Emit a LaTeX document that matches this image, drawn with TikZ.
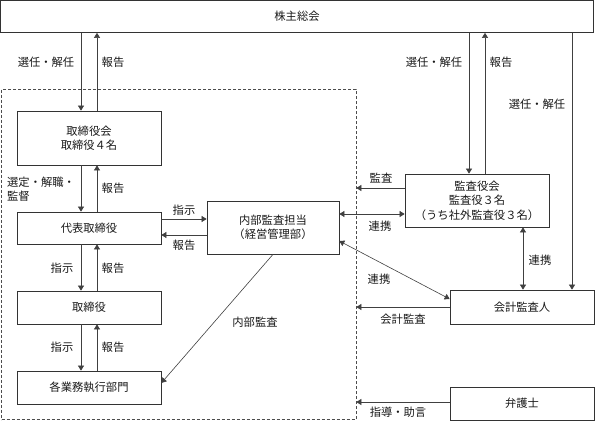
\documentclass[tikz,border=0pt]{standalone}
\usepackage{fontspec}
\setmainfont{Noto Sans CJK JP}
\usetikzlibrary{arrows.meta,calc}
\begin{document}
\begin{tikzpicture}[x=1pt,y=-1pt,
  box/.style={draw=black!80, line width=0.7pt, rectangle, inner sep=0pt, align=center,
    font=\fontsize{11.3}{14.5}\selectfont, text=black!90},
  tip/.tip={Triangle[length=5pt,width=6pt]},
  arr/.style={draw=black!75, line width=0.6pt, -tip},
  arrb/.style={draw=black!75, line width=0.6pt, tip-tip},
  lab/.style={font=\fontsize{11.3}{14}\selectfont, text=black!90, inner sep=0pt}]
\useasboundingbox (0,0) rectangle (595,421);

% frame
\node[draw=black!70, line width=0.6pt, dash pattern=on 3pt off 2pt, minimum width=354.5pt,
  minimum height=330.5pt, inner sep=0pt] (frame) at (178.75,254.25) {};

% boxes
\node[box, minimum width=593pt, minimum height=32pt] (gm) at (297,16.5) {株主総会};
\node[box, minimum width=144pt, minimum height=54pt] (bod) at (89,138) {取締役会\\取締役４名};
\node[box, minimum width=144pt, minimum height=32pt] (ceo) at (89,228) {代表取締役};
\node[box, minimum width=144pt, minimum height=33pt] (dir) at (89,307.5) {取締役};
\node[box, minimum width=144pt, minimum height=33pt] (div) at (89,387.5) {各業務執行部門};
\node[box, minimum width=132pt, minimum height=53pt] (ia) at (273,227.5) {内部監査担当\\（経営管理部）};
\node[box, minimum width=144pt, minimum height=53pt] (kansa) at (477,200.5) {監査役会\\監査役３名\\（うち社外監査役３名）};
\node[box, minimum width=144pt, minimum height=34pt] (auditor) at (522,307) {会計監査人};
\node[box, minimum width=144pt, minimum height=33pt] (lawyer) at (522,403.5) {弁護士};

% shareholders <-> board
\draw[arr] ([xshift=-8pt]bod.north |- gm.south) -- ([xshift=-8pt]bod.north);
\draw[arr] ([xshift=8pt]bod.north) -- ([xshift=8pt]bod.north |- gm.south);
\node[lab] (l1) at (46,62) {選任・解任};
\node[lab] (l2) at (113,62) {報告};

% board <-> ceo
\draw[arr] ([xshift=-8pt]bod.south) -- ([xshift=-8pt]ceo.north);
\draw[arr] ([xshift=8pt]ceo.north) -- ([xshift=8pt]bod.south);
\node[lab, anchor=west, align=left] (l3) at (7,189) {選定・解職・\\監督};
\node[lab] (l4) at (113,188) {報告};

% ceo <-> director
\draw[arr] ([xshift=-8pt]ceo.south) -- ([xshift=-8pt]dir.north);
\draw[arr] ([xshift=8pt]dir.north) -- ([xshift=8pt]ceo.south);
\node[lab] (l5) at (62,268) {指示};
\node[lab] (l6) at (113,268) {報告};

% director <-> divisions
\draw[arr] ([xshift=-8pt]dir.south) -- ([xshift=-8pt]div.north);
\draw[arr] ([xshift=8pt]div.north) -- ([xshift=8pt]dir.south);
\node[lab] (l7) at (62,347) {指示};
\node[lab] (l8) at (113,347) {報告};

% ceo <-> internal audit
\draw[arr] (ceo.east |- 0,219) -- (ia.west |- 0,219);
\draw[arr] (ia.west |- 0,235) -- (ceo.east |- 0,235);
\node[lab] (l9) at (184,210) {指示};
\node[lab] (l10) at (184,245) {報告};

% internal audit -> divisions
\draw[arr] (ia.south) -- (div.east |- 0,383);
\node[lab] (l11) at (255,322) {内部監査};

% shareholders <-> kansa
\draw[arr] ([xshift=-8pt]kansa.north |- gm.south) -- ([xshift=-8pt]kansa.north);
\draw[arr] ([xshift=8pt]kansa.north) -- ([xshift=8pt]kansa.north |- gm.south);
\node[lab] (l12) at (434,62) {選任・解任};
\node[lab] (l13) at (501,62) {報告};

% shareholders -> auditor
\coordinate (ra) at ($(auditor.north)+(50,0)$);
\draw[arr] (ra |- gm.south) -- (ra);
\node[lab] (l14) at (537,104) {選任・解任};

% kansa -> frame
\draw[arr] (kansa.west |- 0,188) -- (frame.east |- 0,188);
\node[lab] (l15) at (381,178) {監査};

% ia <-> kansa
\draw[arrb] (ia.east |- 0,214) -- (kansa.west |- 0,214);
\node[lab] (l16) at (380,226) {連携};

% kansa <-> auditor
\draw[arrb] (kansa.south -| 523,0) -- (auditor.north -| 523,0);
\node[lab] (l17) at (540,260) {連携};

% ia <-> auditor
\draw[arrb] (ia.east |- 0,241) -- (auditor.west |- 0,299);
\node[lab] (l18) at (379,279) {連携};

% auditor -> frame
\draw[arr] (auditor.west) -- (frame.east |- auditor.west);
\node[lab] (l19) at (403,319) {会計監査};

% lawyer -> frame
\draw[arr] (lawyer.west |- 0,402) -- (frame.east |- 0,402);
\node[lab] (l20) at (398,412) {指導・助言};
\end{tikzpicture}
\end{document}
